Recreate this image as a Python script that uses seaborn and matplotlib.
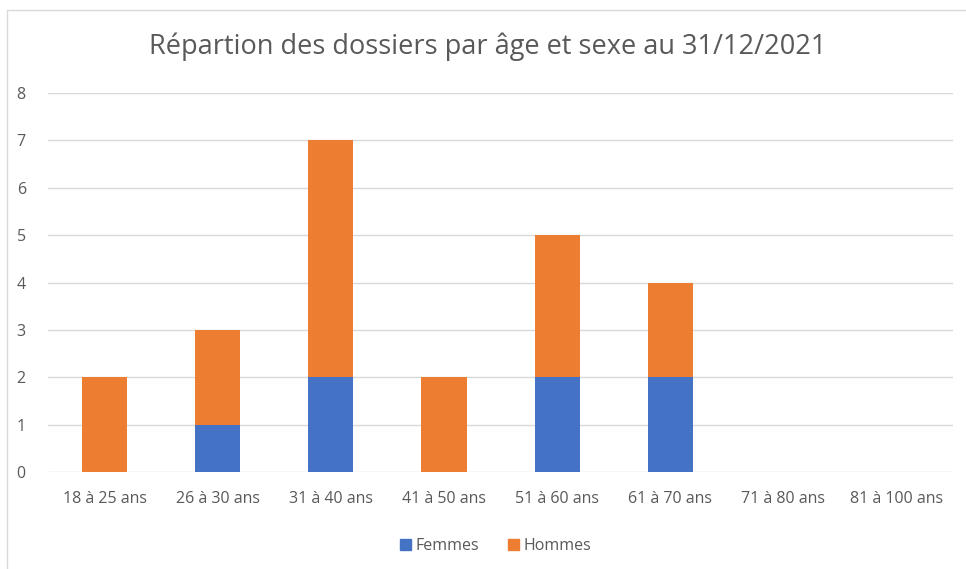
import matplotlib
matplotlib.use("Agg")
import matplotlib.pyplot as plt
from matplotlib.patches import Patch
import seaborn as sns

sns.set_style("white")
plt.rcParams['font.family'] = ['Open Sans', 'DejaVu Sans']

# Données
tranches = ["18 à 25 ans", "26 à 30 ans", "31 à 40 ans", "41 à 50 ans",
            "51 à 60 ans", "61 à 70 ans", "71 à 80 ans", "81 à 100 ans"]
femmes = [0, 1, 2, 0, 2, 2, 0, 0]
hommes = [2, 2, 5, 2, 3, 2, 0, 0]
totaux = [f + h for f, h in zip(femmes, hommes)]

bleu = "#4472C4"
orange = "#ED7D31"
gris = "#595959"

fig = plt.figure(figsize=(9.66, 5.69), dpi=100)
ax = fig.add_axes([0.0497, 0.1705, 0.937, 0.666])

# empilé : total en orange, femmes en bleu par-dessus
sns.barplot(x=tranches, y=totaux, color=orange, width=0.4, ax=ax,
            saturation=1, linewidth=0, zorder=3)
sns.barplot(x=tranches, y=femmes, color=bleu, width=0.4, ax=ax,
            saturation=1, linewidth=0, zorder=4)

ax.set_ylim(0, 8)
ax.set_xlim(-0.5, 7.5)
ax.set_yticks(range(0, 9))
ax.yaxis.grid(True, color="#d9d9d9", lw=1)
ax.set_axisbelow(True)
for s in ax.spines.values():
    s.set_visible(False)
ax.tick_params(axis="both", length=0, labelsize=11.5, labelcolor=gris)
ax.tick_params(axis="x", pad=14)
ax.tick_params(axis="y", pad=16)

fig.text(0.505, 0.917, "Répartion des dossiers par âge et sexe au 31/12/2021",
         ha="center", va="center", fontsize=19.5, color=gris)

handles = [Patch(color=bleu, label="Femmes"), Patch(color=orange, label="Hommes")]
fig.legend(handles=handles, loc="center", bbox_to_anchor=(0.513, 0.04), ncol=2,
           frameon=False, fontsize=11.5, labelcolor=gris, handlelength=0.7,
           handleheight=0.7, handletextpad=0.3, columnspacing=1.8)

# cadre du graphique
fig.add_artist(plt.Line2D([7 / 966, 1], [1 - 10 / 569, 1 - 10 / 569],
                          color="#d9d9d9", lw=1, transform=fig.transFigure))
fig.add_artist(plt.Line2D([7 / 966, 7 / 966], [0, 1 - 10 / 569],
                          color="#d9d9d9", lw=1, transform=fig.transFigure))

fig.savefig("out.png", dpi=100, facecolor="white")
